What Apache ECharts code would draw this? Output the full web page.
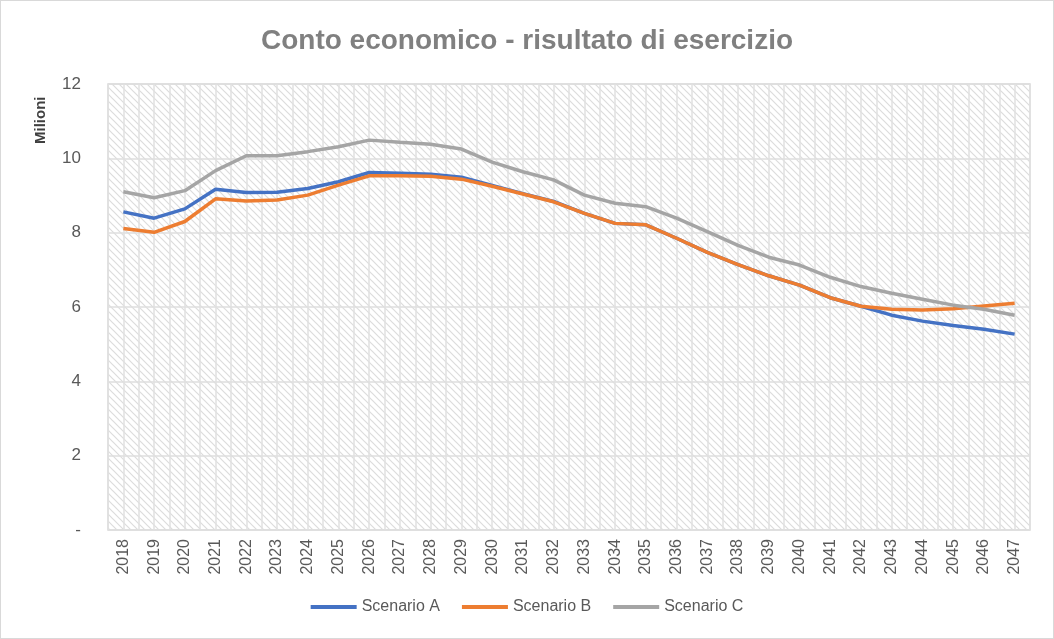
<!DOCTYPE html>
<html>
<head>
<meta charset="utf-8">
<script src="https://cdn.jsdelivr.net/npm/echarts@6/dist/echarts.min.js"></script>
<style>
html,body{margin:0;padding:0;background:#fff;}
#c{width:1052px;height:637px;border:1px solid #d9d9d9;}
</style>
</head>
<body>
<div id="c"></div>
<script>
const years = ['2018','2019','2020','2021','2022','2023','2024','2025','2026','2027','2028','2029','2030','2031','2032','2033','2034','2035','2036','2037','2038','2039','2040','2041','2042','2043','2044','2045','2046','2047'];
const scenarioA = [8.56,8.39,8.64,9.17,9.08,9.09,9.19,9.37,9.62,9.60,9.57,9.49,9.27,9.05,8.84,8.52,8.25,8.21,7.85,7.47,7.14,6.84,6.59,6.25,6.02,5.78,5.62,5.50,5.40,5.27];
const scenarioB = [8.11,8.01,8.30,8.91,8.85,8.88,9.01,9.28,9.53,9.53,9.52,9.44,9.25,9.04,8.83,8.52,8.25,8.21,7.85,7.47,7.14,6.84,6.59,6.25,6.02,5.94,5.92,5.95,6.03,6.10];
const scenarioC = [9.10,8.94,9.13,9.67,10.07,10.07,10.18,10.31,10.49,10.43,10.38,10.25,9.90,9.64,9.42,9.01,8.79,8.70,8.39,8.03,7.66,7.34,7.13,6.80,6.55,6.37,6.21,6.05,5.94,5.78];
const seriesNames = ['Scenario A','Scenario B','Scenario C'];
const yTicks = [0,2,4,6,8,10,12];

const pc = document.createElement('canvas');
pc.width = 7; pc.height = 7;
const g = pc.getContext('2d');
g.fillStyle = '#ffffff'; g.fillRect(0,0,7,7);
g.strokeStyle = '#dcdcdc'; g.lineWidth = 1.2;
g.beginPath();
g.moveTo(-2,-2); g.lineTo(9,9);
g.moveTo(-9,-2); g.lineTo(2,9);
g.moveTo(5,-2); g.lineTo(16,9);
g.stroke();

const FONT = "'Liberation Sans Narrow','Arial Narrow','Liberation Sans',sans-serif";
const chart = echarts.init(document.getElementById('c'));
chart.setOption({
  animation:false,
  title:{text:'Conto economico - risultato di esercizio',left:'center',top:21,
    textStyle:{fontFamily:FONT,fontSize:28,fontWeight:'bold',color:'#808080'}},
  legend:{bottom:18,left:'center',itemWidth:46,itemHeight:4,itemGap:22,icon:'rect',
    textStyle:{fontFamily:FONT,fontSize:16,color:'#595959'},data:seriesNames},
  graphic:[{type:'text',x:32,y:143,rotation:Math.PI/2,
    style:{text:'Milioni',fontFamily:FONT,fontSize:15,fontWeight:'bold',fill:'#404040',align:'left',verticalAlign:'top'}}],
  grid:{left:107,right:23,top:83,bottom:108,show:true,borderColor:'#d9d9d9',borderWidth:1.5,
    backgroundColor:{image:pc,repeat:'repeat'}},
  xAxis:[{type:'category',data:years,boundaryGap:true,
    axisLine:{show:false},axisTick:{show:false},splitLine:{show:false},
    axisLabel:{rotate:90,fontFamily:FONT,fontSize:16,color:'#595959',margin:9}},
   {type:'value',min:0,max:60,interval:1,show:true,position:'bottom',
    axisLine:{show:false},axisTick:{show:false},axisLabel:{show:false},
    splitLine:{show:true,lineStyle:{color:'#e0e0e0',width:1.5}}}],
  yAxis:{type:'value',min:yTicks[0],max:yTicks[yTicks.length-1],interval:2,
    axisLine:{show:false},axisTick:{show:false},
    axisLabel:{fontFamily:FONT,fontSize:17,color:'#595959',margin:27,
      formatter:v=>v===0?'-':String(v)},
    splitLine:{lineStyle:{color:'#dedede',width:1.5}}},
  series:[
    {name:seriesNames[0],type:'line',data:scenarioA,symbol:'none',lineStyle:{color:'#4472C4',width:3.5},itemStyle:{color:'#4472C4'},z:2},
    {name:seriesNames[1],type:'line',data:scenarioB,symbol:'none',lineStyle:{color:'#ED7D31',width:3.5},itemStyle:{color:'#ED7D31'},z:3},
    {name:seriesNames[2],type:'line',data:scenarioC,symbol:'none',lineStyle:{color:'#A5A5A5',width:3.5},itemStyle:{color:'#A5A5A5'},z:4}
  ]
});
</script>
</body>
</html>
